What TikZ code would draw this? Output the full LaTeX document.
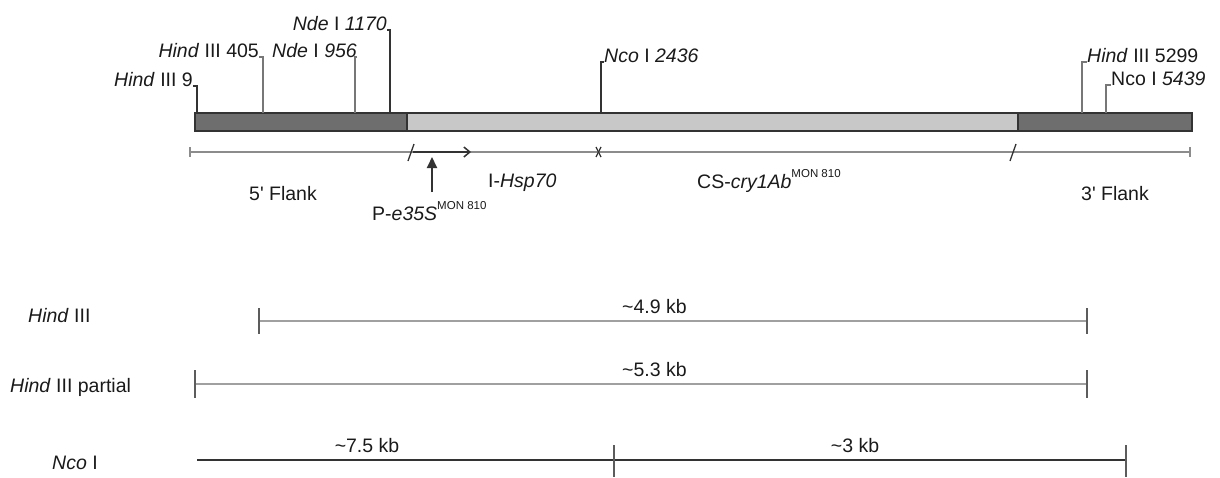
\documentclass[tikz,border=0pt]{standalone}
\usepackage{fontspec}
\setmainfont{Liberation Sans}
\newfontfamily\apfont{Liberation Sans}
\usetikzlibrary{arrows.meta}
\definecolor{txt}{HTML}{1A1A1A}
\definecolor{flank}{HTML}{6E6E6E}
\definecolor{insert}{HTML}{C8C8C8}
\definecolor{edge}{HTML}{333333}
\definecolor{leadlight}{HTML}{777777}
\definecolor{scl}{HTML}{8C8C8C}
\definecolor{frag}{HTML}{A0A0A0}
\newcommand{\supmon}{\raisebox{0.55em}{\fontsize{11.5}{13}\selectfont MON 810}}
\newcommand{\apo}{{\apfont'}}
\begin{document}
\begin{tikzpicture}[x=1pt,y=-1pt,
  lbl/.style={inner sep=0pt,text=txt,font=\fontsize{19.5}{23}\selectfont},
  leaddark/.style={draw=edge,line width=1.6pt},
  leadgrey/.style={draw=leadlight,line width=1.4pt},
  scaleline/.style={draw=scl,line width=1.2pt},
  fragline/.style={draw=frag,line width=2pt},
  tickmark/.style={draw=edge!80,line width=1.6pt},
  blackline/.style={draw=edge,line width=1.8pt}]
\useasboundingbox (0,0) rectangle (1220,477);
% ---- bar ----
\fill[flank] (195,113) rectangle (407,131);
\fill[insert] (407,113) rectangle (1018,131);
\fill[flank] (1018,113) rectangle (1192,131);
\draw[edge,line width=1.6pt] (195,113) rectangle (1192,131);
\draw[edge,line width=1.6pt] (407,113) -- (407,131);
\draw[edge,line width=1.6pt] (1018,113) -- (1018,131);
% ---- site labels ----
\node[lbl,anchor=base east] (h9) at (193,86) {\textit{Hind} III 9};
\node[lbl,anchor=base east] (h405) at (259,57) {\textit{Hind} III 405};
\node[lbl,anchor=base east] (n956) at (357,57) {\textit{Nde} I \textit{956}};
\node[lbl,anchor=base east] (n1170) at (387,30) {\textit{Nde} I \textit{1170}};
\node[lbl,anchor=base west] (n2436) at (604,62) {\textit{Nco} I \textit{2436}};
\node[lbl,anchor=base west] (h5299) at (1087,62) {\textit{Hind} III 5299};
\node[lbl,anchor=base west] (n5439) at (1111,85) {Nco I \textit{5439}};
\coordinate (h9b) at (197,113);
\coordinate (h405b) at (263,113);
\coordinate (n956b) at (355,113);
\coordinate (n1170b) at (390,113);
\coordinate (n2436b) at (601,113);
\coordinate (h5299b) at (1082,113);
\coordinate (n5439b) at (1106,113);
\draw[leaddark] (h9.base east) -| (h9b);
\draw[leadgrey] (h405.base east) -| (h405b);
\draw[leadgrey] (n956.base east) -| (n956b);
\draw[leaddark] (n1170.base east) -| (n1170b);
\draw[leaddark] (n2436.base west) -| (n2436b);
\draw[leadgrey] (h5299.base west) -| (h5299b);
\draw[leadgrey] (n5439.base west) -| (n5439b);
% ---- scale line ----
\coordinate (sL) at (190,152);
\coordinate (sR) at (1190,152);
\draw[scaleline] (sL) -- (sR);
\draw[scaleline] (190,147) -- (190,157);
\draw[scaleline] (1190,147) -- (1190,157);
\draw[edge,line width=1.3pt] (408,161) .. controls (411,152) .. (414,144);
\draw[edge,line width=1.3pt] (1010,161) .. controls (1013,152) .. (1016,144);
\draw[edge,line width=1.3pt] (596,147) -- (601,157);
\draw[edge,line width=1.3pt] (601,147) -- (596,157);
% promoter arrow
\coordinate (pS) at (413,152);
\coordinate (pE) at (471,152);
\draw[edge,line width=1.5pt,-{Straight Barb[length=6pt,width=10pt]}] (pS) -- (pE);
\coordinate (upS) at (432,192);
\coordinate (upE) at (432,157);
\draw[edge,line width=2pt,-{Triangle[length=11pt,width=10pt]}] (upS) -- (upE);
% ---- element labels ----
\node[lbl,anchor=base] (f5) at (283,200) {5\apo{} Flank};
\node[lbl,anchor=base west] (pe) at (372,220) {P-\textit{e35S}\supmon};
\node[lbl,anchor=base west] (hsp) at (488,187) {I-\textit{Hsp70}};
\node[lbl,anchor=base west] (cry) at (697,188) {CS-\textit{cry1Ab}\supmon};
\node[lbl,anchor=base] (f3) at (1115,200) {3\apo{} Flank};
% ---- fragments ----
\node[lbl,anchor=base west] (r1) at (28,322) {\textit{Hind} III};
\node[lbl,anchor=base west] (r2) at (10,392) {\textit{Hind} III partial};
\node[lbl,anchor=base west] (r3) at (52,469) {\textit{Nco} I};
% row 1
\coordinate (a1) at (259,321);
\coordinate (b1) at (1087,321);
\draw[fragline] (a1) -- (b1);
\draw[tickmark] (259,308) -- (259,334);
\draw[tickmark] (1087,308) -- (1087,334);
\node[lbl,anchor=base west] (k1) at (622,313) {\textasciitilde 4.9 kb};
% row 2
\coordinate (a2) at (195,384);
\coordinate (b2) at (1087,384);
\draw[fragline] (a2) -- (b2);
\draw[tickmark] (195,370) -- (195,398);
\draw[tickmark] (1087,370) -- (1087,398);
\node[lbl,anchor=base west] (k2) at (622,376) {\textasciitilde 5.3 kb};
% row 3
\coordinate (a3) at (197,460);
\coordinate (m3) at (614,460);
\coordinate (b3) at (1126,460);
\draw[blackline] (a3) -- (b3);
\draw[tickmark] (614,445) -- (614,477);
\draw[tickmark] (1126,445) -- (1126,477);
\node[lbl,anchor=base] (k3) at (367,452) {\textasciitilde 7.5 kb};
\node[lbl,anchor=base] (k4) at (855,452) {\textasciitilde 3 kb};
\end{tikzpicture}
\end{document}
